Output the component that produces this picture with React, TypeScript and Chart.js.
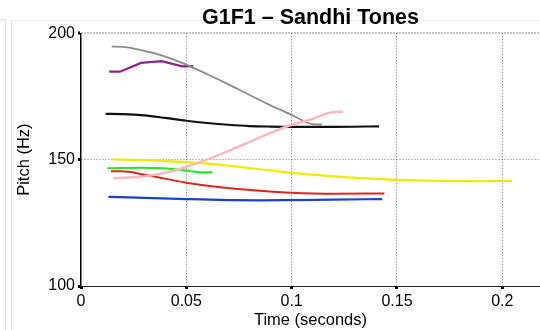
import React, { useEffect, useRef } from 'react';
import { Chart, registerables } from 'chart.js';

Chart.register(...registerables);

const TITLE = 'G1F1 – Sandhi Tones';
const X_TITLE = 'Time (seconds)';
const Y_TITLE = 'Pitch (Hz)';
const X_MIN = 0;
const X_MAX = 0.2179;
const Y_MIN = 100;
const Y_MAX = 200;
const xTickValues = [0, 0.05, 0.1, 0.15, 0.2];
const xTickLabels = ['0', '0.05', '0.1', '0.15', '0.2'];
const yTickValues = [100, 150, 200];
const yTickLabels = ['100', '150', '200'];

const grayTime = [0.0146, 0.02, 0.028, 0.04, 0.05, 0.06, 0.07, 0.08, 0.09, 0.1, 0.105, 0.11, 0.1144];
const grayPitch = [194.7, 194.6, 193.4, 190.8, 187.6, 183.8, 179.8, 175.6, 171.5, 167.7, 165.6, 164.0, 163.9];

const purpleTime = [0.0134, 0.0185, 0.0285, 0.0383, 0.048, 0.0533];
const purplePitch = [184.8, 184.8, 188.3, 189.0, 186.9, 187.0];

const blackTime = [0.0117, 0.02, 0.03, 0.04, 0.05, 0.06, 0.07, 0.08, 0.09, 0.1, 0.12, 0.1415];
const blackPitch = [168.1, 168.0, 167.5, 166.5, 165.4, 164.5, 163.8, 163.3, 163.1, 163.0, 163.0, 163.2];

const pinkTime = [0.0153, 0.031, 0.044, 0.05, 0.058, 0.071, 0.085, 0.099, 0.109, 0.12, 0.1245];
const pinkPitch = [142.6, 143.5, 145.6, 147.2, 149.5, 153.8, 158.8, 163.5, 165.9, 168.9, 169.0];

const yellowTime = [0.0149, 0.03, 0.05, 0.06, 0.07, 0.085, 0.1, 0.12, 0.14, 0.15, 0.17, 0.19, 0.2047];
const yellowPitch = [150.1, 149.8, 149.0, 148.4, 147.6, 146.2, 144.8, 143.4, 142.4, 142.0, 141.6, 141.5, 141.6];

const greenTime = [0.0125, 0.028, 0.039, 0.05, 0.0565, 0.0623];
const greenPitch = [146.6, 146.8, 146.6, 145.7, 145.0, 145.0];

const redTime = [0.0142, 0.0193, 0.031, 0.05, 0.066, 0.085, 0.1, 0.12, 0.144];
const redPitch = [145.4, 145.4, 143.9, 140.9, 139.1, 137.7, 136.9, 136.5, 136.6];

const blueTime = [0.013, 0.03, 0.05, 0.07, 0.085, 0.1, 0.12, 0.143];
const bluePitch = [135.3, 134.9, 134.4, 134.0, 133.9, 134.0, 134.2, 134.4];

const FONT = 'Liberation Sans, Arial, Helvetica, sans-serif';

function pts(t: number[], p: number[]) {
  return t.map((x, i) => ({ x, y: p[i] }));
}

function series(t: number[], p: number[], color: string, width: number, curve = true) {
  return {
    data: pts(t, p),
    borderColor: color,
    backgroundColor: color,
    borderWidth: width,
    pointRadius: 0,
    showLine: true,
    fill: false,
    tension: curve ? 0.4 : 0,
    cubicInterpolationMode: curve ? 'monotone' : 'default',
    borderCapStyle: 'butt',
  };
}

export default function App() {
  const ref = useRef<HTMLCanvasElement | null>(null);

  useEffect(() => {
    if (!ref.current) return;
    const chart = new Chart(ref.current, {
      type: 'scatter',
      data: {
        datasets: [
          series(pinkTime, pinkPitch, '#ffb8c0', 2.5),
          series(grayTime, grayPitch, '#8c8c8c', 1.8),
          series(purpleTime, purplePitch, '#8e2390', 2.2, false),
          series(blackTime, blackPitch, '#111111', 2.2),
          series(yellowTime, yellowPitch, '#f2ea00', 2.2),
          series(greenTime, greenPitch, '#22e822', 2.2),
          series(redTime, redPitch, '#e2261b', 2.0),
          series(blueTime, bluePitch, '#1d3fd4', 2.2),
        ] as any,
      },
      options: {
        animation: false,
        responsive: false,
        layout: { padding: { left: 0, right: 0, top: 0, bottom: 0 } },
        plugins: {
          legend: { display: false },
          tooltip: { enabled: false },
          title: {
            display: true,
            text: TITLE,
            fullSize: false,
            color: '#000',
            font: { family: FONT, size: 21.5, weight: 'bold', lineHeight: 1.2 },
            padding: { top: 5, bottom: 2.5 },
          },
        },
        scales: {
          x: {
            type: 'linear',
            min: X_MIN,
            max: X_MAX,
            afterBuildTicks: (s: any) => {
              s.ticks = xTickValues.map((value) => ({ value }));
            },
            afterFit: (s: any) => {
              s.height = 44;
              s.paddingLeft = 0;
              s.paddingRight = 0;
            },
            ticks: {
              autoSkip: false,
              maxRotation: 0,
              color: '#000',
              padding: 3,
              font: { family: FONT, size: 16 },
              callback: (v: any, i: number) => xTickLabels[i],
            },
            grid: {
              color: (c: any) => (c.tick && c.tick.value > 0 ? '#7a7a7a' : 'rgba(0,0,0,0)'),
              lineWidth: 1,
              tickLength: 3,
              tickWidth: 3,
              tickColor: '#000',
            },
            border: { display: true, color: '#222', width: 1, dash: [1, 2] },
            title: {
              display: true,
              text: X_TITLE,
              color: '#000',
              font: { family: FONT, size: 16.5 },
              padding: { top: 0, bottom: 0 },
            },
          },
          y: {
            type: 'linear',
            min: Y_MIN,
            max: Y_MAX,
            afterBuildTicks: (s: any) => {
              s.ticks = yTickValues.map((value) => ({ value }));
            },
            afterFit: (s: any) => {
              s.width = 81;
              s.paddingTop = 0;
              s.paddingBottom = 0;
            },
            ticks: {
              autoSkip: false,
              color: '#000',
              padding: 3,
              font: { family: FONT, size: 16 },
              callback: (v: any, i: number) => yTickLabels[i],
            },
            grid: {
              color: (c: any) => (c.tick && c.tick.value === Y_MIN ? 'rgba(0,0,0,0)' : c.tick && c.tick.value === Y_MAX ? '#8a8a8a' : '#7a7a7a'),
              lineWidth: (c: any) => (c.tick && c.tick.value === Y_MAX ? 2 : 1),
              tickLength: 3,
              tickWidth: 3,
              tickColor: '#000',
            },
            border: { display: true, color: '#000', width: 1.5, dash: [1, 2] },
            title: {
              display: true,
              text: Y_TITLE,
              color: '#000',
              font: { family: FONT, size: 16.5 },
              padding: { top: 15, bottom: 0 },
            },
          },
        },
      } as any,
    });
    return () => chart.destroy();
  }, []);

  return (
    <div style={{ position: 'fixed', left: 0, top: 0, width: 540, height: 330, background: '#fff', overflow: 'hidden' }}>
      <div style={{ position: 'absolute', left: 0, top: 19, width: 5, height: 1, background: '#e2e2e2' }} />
      <div style={{ position: 'absolute', left: 5, top: 19, width: 1, height: 311, background: '#e2e2e2' }} />
      <div style={{ position: 'absolute', left: 11, top: 20, width: 529, height: 1, background: '#ececec' }} />
      <div style={{ position: 'absolute', left: 11, top: 20, width: 1, height: 310, background: '#e2e2e2' }} />
      <canvas ref={ref} width={540} height={330} style={{ position: 'absolute', left: 0, top: 0, width: 540, height: 330 }} />
    </div>
  );
}
